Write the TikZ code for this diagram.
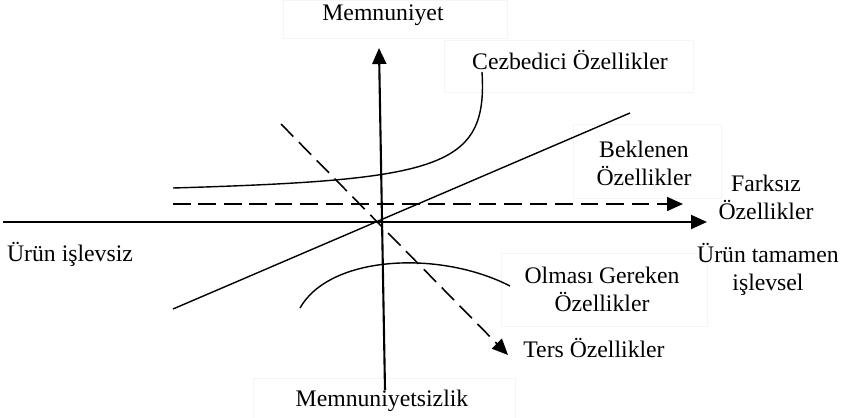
\documentclass[tikz,border=0pt]{standalone}
\usepackage{fontspec}
\setmainfont{Liberation Serif}
\usetikzlibrary{arrows.meta}

\begin{document}
\begin{tikzpicture}[x=0.02cm, y=-0.02cm,
    >={Triangle[length=3.2mm,width=2.8mm]},
    eksen/.style={line width=1.2pt},
    egri/.style={line width=0.8pt},
    kesik/.style={line width=0.9pt, dash pattern=on 10pt off 4.5pt},
    kutu/.style={draw=black!4, line width=0.4pt},
    etiket/.style={font=\fontsize{13.5}{16}\selectfont, align=center, inner sep=0pt}]
    \useasboundingbox (0,0) rectangle (843,417);
    % soluk kutular:
    \draw[kutu] (283,0) rectangle (507,38);
    \draw[kutu] (444,40) rectangle (693,92);
    \draw[kutu] (573,124) rectangle (721,198);
    \draw[kutu] (501,253) rectangle (707,326);
    \draw[kutu] (253,378) rectangle (515,418);
    % etiketler:
    \node[etiket] (memnun) at (383,15) {Memnuniyet};
    \node[etiket] (cezbe) at (570,60) {Cezbedici Özellikler};
    \node[etiket] (bekle) at (644,163) {Beklenen\\Özellikler};
    \node[etiket] (farksiz) at (766,197) {Farksız\\Özellikler};
    \node[etiket] (islevsiz) at (70,254) {Ürün işlevsiz};
    \node[etiket] (tamamen) at (768,269) {Ürün tamamen\\işlevsel};
    \node[etiket] (olmasi) at (602,289) {Olması Gereken\\Özellikler};
    \node[etiket] (ters) at (594,348) {Ters Özellikler};
    \node[etiket] (memnunsuz) at (382,401) {Memnuniyetsizlik};
    % eksenler:
    \coordinate (xsol) at (3,222);
    \coordinate (xsag) at (707,222);
    \coordinate (yalt) at (385,390);
    \coordinate (yust) at (379,48);
    \draw[eksen, ->] (xsol) -- (xsag); % yatay eksen
    \draw[eksen, ->] (yalt) -- (yust); % dikey eksen
    % egriler ve dogrular:
    \coordinate (dsol) at (173,309);
    \coordinate (dsag) at (630,113);
    \draw[egri] (dsol) -- (dsag); % tek boyutlu
    \draw[egri] (173,188) .. controls (440,180) and (488,168) .. (482,72); % cezbedici
    \draw[egri] (300,308) .. controls (330,255) and (440,250) .. (510,286); % olmasi gereken
    \coordinate (ksol) at (173,204);
    \coordinate (ksag) at (683,204);
    \draw[kesik, ->] (ksol) -- (ksag); % farksiz
    \coordinate (tust) at (281,124);
    \coordinate (talt) at (508,355);
    \draw[kesik, ->] (tust) -- (talt); % ters
\end{tikzpicture}
\end{document}
